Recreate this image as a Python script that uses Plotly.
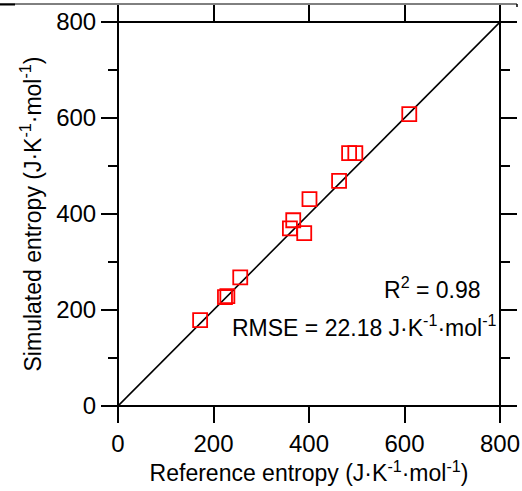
import plotly.graph_objects as go

# Reference vs simulated entropy (J·K^-1·mol^-1)
reference_entropy = [172, 224, 229, 256, 360, 367, 390, 401, 463, 484, 497, 610]
simulated_entropy = [179, 227, 229, 268, 370, 387, 360, 431, 469, 527, 527, 608]
parity_line = [0, 800]
tick_values = [0, 200, 400, 600, 800]

W, H = 522, 491
ML, MR, MT, MB = 118, 22, 22, 85
PW, PH = W - ML - MR, H - MT - MB
TICK = 16
FONT = "Liberation Sans, Arial, sans-serif"
TICK_SIZE = 24
TEXT_SIZE = 23
UNIT = "J·K<sup>-1</sup>·mol<sup>-1</sup>"


def px(p):
    """Horizontal pixel position -> paper coordinate."""
    return (p - ML) / PW


def py(p):
    """Vertical pixel position (from top) -> paper coordinate."""
    return 1 - (p - MT) / PH


fig = go.Figure()

fig.add_trace(go.Scatter(
    x=parity_line, y=parity_line, mode="lines",
    line=dict(color="black", width=1.6), hoverinfo="skip", showlegend=False,
))
fig.add_trace(go.Scatter(
    x=reference_entropy, y=simulated_entropy, mode="markers",
    marker=dict(symbol="square-open", size=14, color="#ff0000",
                line=dict(width=1.8, color="#ff0000")),
    showlegend=False,
))

axis_common = dict(
    range=[0, 800], tickvals=tick_values, ticks="outside", ticklen=TICK,
    tickwidth=2, tickcolor="black", showgrid=False, zeroline=False,
    showline=False, mirror="ticks", automargin=False,
    tickfont=dict(family=FONT, size=TICK_SIZE, color="black"),
)

fig.update_xaxes(
    **axis_common,
    title=dict(text=f"Reference entropy ({UNIT})",
               font=dict(family=FONT, size=TEXT_SIZE, color="black"),
               standoff=4),
)
fig.update_yaxes(
    **axis_common,
    minor=dict(dtick=100, ticks="outside", ticklen=9, tickwidth=2,
               tickcolor="black"),
    title=dict(text=f"Simulated entropy ({UNIT})",
               font=dict(family=FONT, size=TEXT_SIZE, color="black"),
               standoff=8),
)

# Frame lines, each running past the corners by one tick length
ext_x = TICK / PW
ext_y = TICK / PH
frame = [
    (-ext_x, 0, 1 + ext_x, 0),
    (-ext_x, 1, 1 + ext_x, 1),
    (0, -ext_y, 0, 1 + ext_y),
    (1, -ext_y, 1, 1 + ext_y),
]
shapes = [
    dict(type="line", xref="paper", yref="paper", x0=a, y0=b, x1=c, y1=d,
         line=dict(color="black", width=2), layer="above")
    for a, b, c, d in frame
]
# Thin rule along the top edge of the figure
shapes.append(dict(type="line", xref="paper", yref="paper",
                   x0=px(0), y0=py(4), x1=px(517), y1=py(4),
                   line=dict(color="black", width=1)))
shapes.append(dict(type="line", xref="paper", yref="paper",
                   x0=px(0), y0=py(4.5), x1=px(15), y1=py(4.5),
                   line=dict(color="black", width=2)))
shapes.append(dict(type="line", xref="paper", yref="paper",
                   x0=px(517), y0=py(4), x1=px(517), y1=py(7),
                   line=dict(color="black", width=1.5)))

annotations = [
    dict(x=px(483), y=py(288), xref="paper", yref="paper",
         xanchor="right", yanchor="middle", showarrow=False,
         text="R<sup>2</sup> = 0.98",
         font=dict(family=FONT, size=TEXT_SIZE, color="black")),
    dict(x=px(499), y=py(326), xref="paper", yref="paper",
         xanchor="right", yanchor="middle", showarrow=False,
         text=f"RMSE = 22.18 {UNIT}",
         font=dict(family=FONT, size=TEXT_SIZE, color="black")),
]

fig.update_layout(
    width=W, height=H,
    margin=dict(l=ML, r=MR, t=MT, b=MB),
    paper_bgcolor="white", plot_bgcolor="white",
    shapes=shapes, annotations=annotations,
)

fig.write_html("out.html")
